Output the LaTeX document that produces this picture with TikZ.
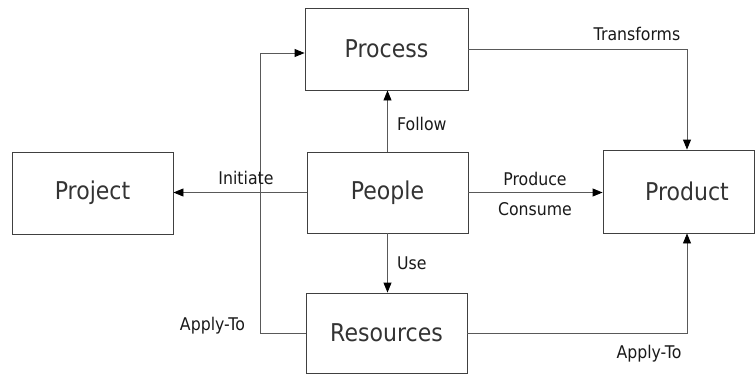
\documentclass[tikz,border=0pt]{standalone}
\usepackage{fontspec}
\setmainfont{DejaVu Sans}[FakeStretch=0.9]
\usetikzlibrary{arrows.meta}
\tikzset{
  boxnode/.style={draw=black!75, line width=0.9pt, inner sep=0pt, font=\fontsize{24.5}{29}\selectfont, text=black!80},
  conn/.style={draw=black!65, line width=0.9pt, -{Triangle[length=10pt,width=8pt,color=black]}},
  elabel/.style={inner sep=0pt, font=\fontsize{17.5}{21}\selectfont, text=black!90}
}
\begin{document}
\begin{tikzpicture}[x=1pt,y=-1pt]
\useasboundingbox (0,0) rectangle (755,373);
\node[boxnode, minimum width=163pt, minimum height=82pt] (process) at (386.5,49) {Process};
\node[boxnode, minimum width=161pt, minimum height=82pt] (project) at (92.5,193) {Project};
\node[boxnode, minimum width=161pt, minimum height=81pt] (people) at (387.5,192.5) {People};
\node[boxnode, minimum width=161pt, minimum height=80pt] (resources) at (386.5,333) {Resources};
\node[boxnode, minimum width=151pt, minimum height=83pt,
      label={[font=\fontsize{24.5}{29}\selectfont, text=black!80, xshift=8.5pt]center:Product}] (product) at (678.5,191.5) {};
\coordinate (lt) at (260.5,53);
\coordinate (px) at (687,0);

\draw[conn] (process.east) -| (px |- product.north);
\draw[conn] (people.north) -- (people.north |- process.south);
\draw[conn] (people.east) -- (people.east -| product.west);
\draw[conn] (people.west) -- (people.west -| project.east);
\draw[conn] (people.south) -- (people.south |- resources.north);
\draw[conn] (resources.west) -| (lt) -- (lt -| process.west);
\draw[conn] (resources.east) -| (px |- product.south);

\node[elabel] (ltransforms) at (637,34) {Transforms};
\node[elabel, anchor=west] (lfollow) at (397,124) {Follow};
\node[elabel] (lproduce) at (535,179) {Produce};
\node[elabel] (lconsume) at (535,209) {Consume};
\node[elabel] (linitiate) at (246,178) {Initiate};
\node[elabel, anchor=west] (luse) at (397,263) {Use};
\node[elabel] (lapply1) at (212.5,326) {Apply-To};
\node[elabel] (lapply2) at (649,354) {Apply-To};
\end{tikzpicture}
\end{document}
